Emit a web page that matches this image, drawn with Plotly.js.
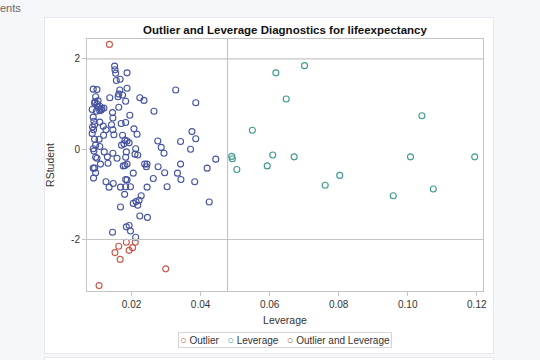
<!DOCTYPE html>
<html>
<head>
<meta charset="utf-8">
<script src="https://cdn.plot.ly/plotly-3.0.1.min.js"></script>
<style>
  html, body { margin: 0; padding: 0; background: #f6f7fb; width: 540px; height: 360px; overflow: hidden; }
  #card { position: absolute; left: 44px; top: 17px; width: 448px; height: 335px; background: #ffffff; border: 1px solid #e6e8ee; }
  #card2 { position: absolute; left: 44px; top: 357px; width: 448px; height: 20px; background: #ffffff; border: 1px solid #e6e8ee; }
  #crumb { position: absolute; left: 0px; top: 2px; font-family: "Liberation Sans", Arial, sans-serif; font-size: 11px; color: #666; }
  #chart { position: absolute; left: 0; top: 0; width: 540px; height: 360px; }
</style>
</head>
<body>
<div id="crumb">ents</div>
<div id="card"></div>
<div id="card2"></div>
<div id="chart"></div>
<script>
// Observations (neither outlier nor leverage)
const obsLev = [0.0151,0.0152,0.0154,0.0156,0.0167,0.0187,0.0089,0.0100,0.0096,0.0137,0.0166,0.0163,0.0174,0.0161,0.0187,0.0183,0.0224,0.0236,0.0328,0.0386,
  0.0094,0.0100,0.0104,0.0108,0.0114,0.0120,0.0086,0.0098,0.0265,0.0163,0.0145,0.0146,0.0142,0.0146,0.0149,0.0195,0.0170,0.0183,0.0089,0.0091,
  0.0093,0.0087,0.0090,0.0086,0.0108,0.0118,0.0126,0.0119,0.0207,0.0216,0.0174,0.0181,0.0171,0.0178,0.0187,0.0193,0.0093,0.0106,0.0089,0.0096,
  0.0276,0.0286,0.0294,0.0342,0.0375,0.0386,0.0371,0.0444,0.0121,0.0130,0.0146,0.0158,0.0185,0.0183,0.0212,0.0210,0.0218,0.0096,0.0091,0.0100,
  0.0093,0.0108,0.0103,0.0112,0.0108,
  0.0110,0.0132,0.0089,0.0093,0.0096,0.0090,0.0176,0.0181,0.0187,0.0238,0.0245,0.0243,0.0277,0.0296,0.0342,0.0333,0.0419,0.0205,0.0263,0.0343,
  0.0383,0.0126,0.0147,0.0135,0.0168,0.0183,0.0183,0.0187,0.0197,0.0245,0.0303,0.0180,0.0228,0.0222,0.0205,0.0218,0.0213,0.0168,0.0425,0.0224,
  0.0246,0.0193,0.0185,0.0197,0.0145,0.0212];
const obsRstud = [1.84,1.76,1.68,1.52,1.55,1.69,1.33,1.32,1.16,1.14,1.31,1.22,1.20,1.16,1.35,1.06,1.14,1.08,1.31,1.03,
  1.05,1.00,0.93,0.85,0.90,0.91,0.88,0.84,0.84,0.93,0.81,0.69,0.54,0.43,0.32,0.75,0.57,0.59,0.71,0.62,
  0.54,0.49,0.43,0.35,0.60,0.51,0.43,0.31,0.45,0.33,0.31,0.20,0.09,0.12,0.18,0.14,0.22,0.22,0.01,0.09,
  0.18,0.04,-0.09,0.17,0.39,0.23,0.00,-0.22,-0.06,-0.17,-0.09,-0.20,-0.06,-0.18,0.01,-0.11,-0.13,-0.18,-0.04,-0.20,
  1.02,0.95,1.07,0.87,0.06,
  -0.33,-0.31,-0.42,-0.42,-0.52,-0.64,-0.37,-0.36,-0.33,-0.33,-0.33,-0.39,-0.39,-0.52,-0.33,-0.53,-0.42,-0.53,-0.65,-0.67,
  -0.72,-0.72,-0.76,-0.84,-0.84,-0.83,-0.67,-0.68,-0.83,-0.84,-0.83,-1.00,-1.03,-1.13,-1.20,-1.24,-1.16,-1.28,-1.17,-1.48,
  -1.51,-1.69,-1.72,-1.81,-1.84,-1.95];

// Outliers
const outLev = [0.0136,0.0185,0.0211,0.0163,0.0203,0.0152,0.0193,0.0167,0.0299,0.0106];
const outRstud = [2.32,-2.06,-2.06,-2.15,-2.18,-2.29,-2.24,-2.44,-2.65,-3.02];

// High leverage points
const levLev = [0.0490,0.0492,0.0505,0.0550,0.0593,0.0609,0.0618,0.0648,0.0671,0.0701,0.0761,0.0803,0.0958,0.1008,0.1041,0.1074,0.1194];
const levRstud = [-0.16,-0.21,-0.45,0.42,-0.37,-0.13,1.69,1.11,-0.17,1.85,-0.80,-0.58,-1.03,-0.17,0.74,-0.88,-0.17];

// Outlier and leverage (none)
const bothLev = [];
const bothRstud = [];

const groupNames = ['Outlier', 'Leverage', 'Outlier and Leverage'];
const levCutoff = 0.0478;
const rstudCutoffs = [-2, 2];
const xTicks = [0.02, 0.04, 0.06, 0.08, 0.10, 0.12];
const yTicks = [-2, 0, 2];

const FONT = '"Liberation Sans", Arial, sans-serif';
const refColor = '#c4c4c4';
const groupColors = ['#c8584c', '#3e9a8e', '#9a6a2c'];

function mk(x, y, color, name) {
  return { type: 'scatter', mode: 'markers', x: x, y: y, name: name, showlegend: false,
    marker: { symbol: 'circle-open', size: 6, color: color, line: { width: 1.1, color: color } },
    hoverinfo: 'x+y' };
}

const traces = [
  mk(obsLev, obsRstud, '#4553a0', 'Observation'),
  mk(outLev, outRstud, groupColors[0], groupNames[0]),
  mk(levLev, levRstud, groupColors[1], groupNames[1]),
  mk(bothLev, bothRstud, groupColors[2], groupNames[2])
];

const shapes = [
  { type: 'line', xref: 'x', yref: 'paper', x0: levCutoff, x1: levCutoff, y0: 0, y1: 1, line: { color: refColor, width: 1.2 } }
].concat(rstudCutoffs.map(v => ({ type: 'line', xref: 'paper', yref: 'y', x0: 0, x1: 1, y0: v, y1: v, line: { color: refColor, width: 1.2 } })));

const legendText = groupNames.map((n, i) =>
  '<span style="color:' + groupColors[i] + ';font-size:11px">○</span>&nbsp;' + n).join('&nbsp;&nbsp;&nbsp;');

const layout = {
  width: 540, height: 360,
  paper_bgcolor: 'rgba(0,0,0,0)', plot_bgcolor: 'rgba(0,0,0,0)',
  margin: { l: 87, r: 57, t: 39, b: 69 },
  font: { family: FONT, size: 10, color: '#333' },
  title: { text: '<b>Outlier and Leverage Diagnostics for lifeexpectancy</b>', font: { family: FONT, size: 11.5, color: '#111' },
    x: 0.5, xref: 'paper', xanchor: 'center', y: 1 - 30/360, yref: 'container', yanchor: 'middle' },
  xaxis: { range: [0.0071, 0.1218], tickvals: xTicks, ticktext: xTicks.map(v => v.toFixed(2)),
    showgrid: false, zeroline: false, showline: true, mirror: true, linecolor: '#c4c4c4', linewidth: 1,
    ticks: 'outside', ticklen: 4, tickcolor: '#c4c4c4', tickfont: { size: 10, color: '#333' },
    title: { text: 'Leverage', font: { size: 10.5, color: '#333' }, standoff: 7 } },
  yaxis: { range: [-3.14, 2.44], tickvals: yTicks, ticktext: yTicks.map(String),
    showgrid: false, zeroline: false, showline: true, mirror: true, linecolor: '#c4c4c4', linewidth: 1,
    ticks: 'outside', ticklen: 4, tickcolor: '#c4c4c4', tickfont: { size: 10, color: '#333' },
    title: { text: 'RStudent', font: { size: 10.5, color: '#333' }, standoff: 14 } },
  shapes: shapes,
  showlegend: false,
  annotations: [{
    text: legendText, xref: 'paper', yref: 'paper', x: 0.5, y: -0.194, xanchor: 'center', yanchor: 'middle',
    showarrow: false, font: { size: 10, color: '#333' }, bordercolor: '#d4d4d4', borderwidth: 1, borderpad: 1, bgcolor: '#ffffff'
  }]
};

Plotly.newPlot('chart', traces, layout, { displayModeBar: false, staticPlot: true });
</script>
</body>
</html>
